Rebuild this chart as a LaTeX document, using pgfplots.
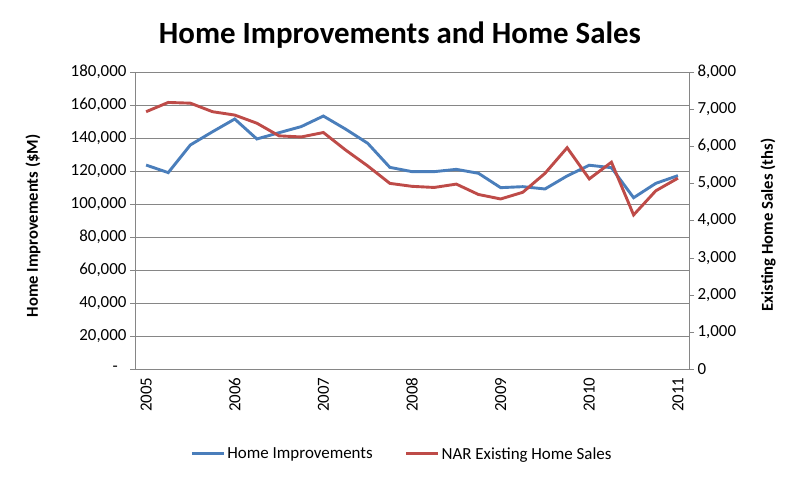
\documentclass[border=0pt]{standalone}
\usepackage{fontspec}
\setmainfont{Carlito}
\usepackage{pgfplots}
\pgfplotsset{compat=1.18}
\definecolor{hiblue}{HTML}{4A7EBB}
\definecolor{nared}{HTML}{BE4B48}
\definecolor{gridgray}{HTML}{868686}

\pgfplotstableread{
q hi sales
0 123600 6930
1 119000 7180
2 135800 7160
3 143800 6930
4 151500 6840
5 139400 6620
6 143200 6280
7 146900 6250
8 153300 6370
9 145400 5900
10 136800 5470
11 122200 5000
12 119600 4920
13 119600 4890
14 121000 4980
15 118600 4700
16 109900 4580
17 110500 4760
18 109100 5270
19 117000 5960
20 123500 5120
21 122000 5570
22 103800 4150
23 112500 4800
24 117200 5140
}\datatable

\begin{document}
\begin{tikzpicture}[x=1bp,y=1bp]
\useasboundingbox (0,0) rectangle (800,481);
\pgfplotsset{
  common/.style={
    at={(135bp,112bp)}, anchor=south west,
    width=554bp, height=297bp, scale only axis,
    xmin=-0.5, xmax=24.5,
    tick label style={font=\fontsize{17}{20}\selectfont, text=black},
    axis line style={gridgray},
    major tick length=5bp, minor tick length=5bp,
    tick align=outside,
  },
}
\begin{axis}[common,
  ymin=0, ymax=180000,
  ytick={0,20000,...,180000},
  yticklabels={{-\hphantom{0}},{20,000},{40,000},{60,000},{80,000},{100,000},{120,000},{140,000},{160,000},{180,000}},
  ytick pos=left,
  xtick={0,4,...,24},
  xticklabels={2005,2006,2007,2008,2009,2010,2011},
  xtick pos=bottom,
  x tick style={draw=none},
  minor xtick={-0.5,0.5,...,24.5},
  minor x tick style={gridgray},
  y tick style={gridgray},
  xticklabel style={rotate=90, anchor=east},
  ymajorgrids, grid style={gridgray, line width=0.8bp},
  scaled y ticks=false,
]
\addplot[hiblue, line width=2.9bp] table[x=q, y=hi] {\datatable};
\end{axis}
\begin{axis}[common,
  ymin=0, ymax=8000,
  ytick={0,1000,...,8000},
  yticklabels={0,{1,000},{2,000},{3,000},{4,000},{5,000},{6,000},{7,000},{8,000}},
  axis y line*=right,
  axis x line=none,
  y tick style={gridgray},
  scaled y ticks=false,
  legend style={at={(0.482,-0.286)}, anchor=center, draw=none, fill=none,
    legend columns=2, font=\fontsize{17}{20}\selectfont,
    /tikz/every even column/.append style={column sep=30bp}},
  legend image code/.code={\draw[#1] (0bp,0bp) -- (32bp,0bp);},
]
\addlegendimage{hiblue, line width=2.9bp}
\addlegendentry{Home Improvements}
\addplot[nared, line width=2.9bp] table[x=q, y=sales] {\datatable};
\addlegendentry{NAR Existing Home Sales}
\end{axis}
\node[font=\fontsize{31}{36}\selectfont\bfseries] at (400,446) {Home Improvements and Home Sales};
\node[rotate=90, font=\fontsize{16.7}{20}\selectfont\bfseries] at (33,255) {Home Improvements (\$M)};
\node[rotate=90, font=\fontsize{16.7}{20}\selectfont\bfseries] at (768,256) {Existing Home Sales (ths)};
\end{tikzpicture}
\end{document}
